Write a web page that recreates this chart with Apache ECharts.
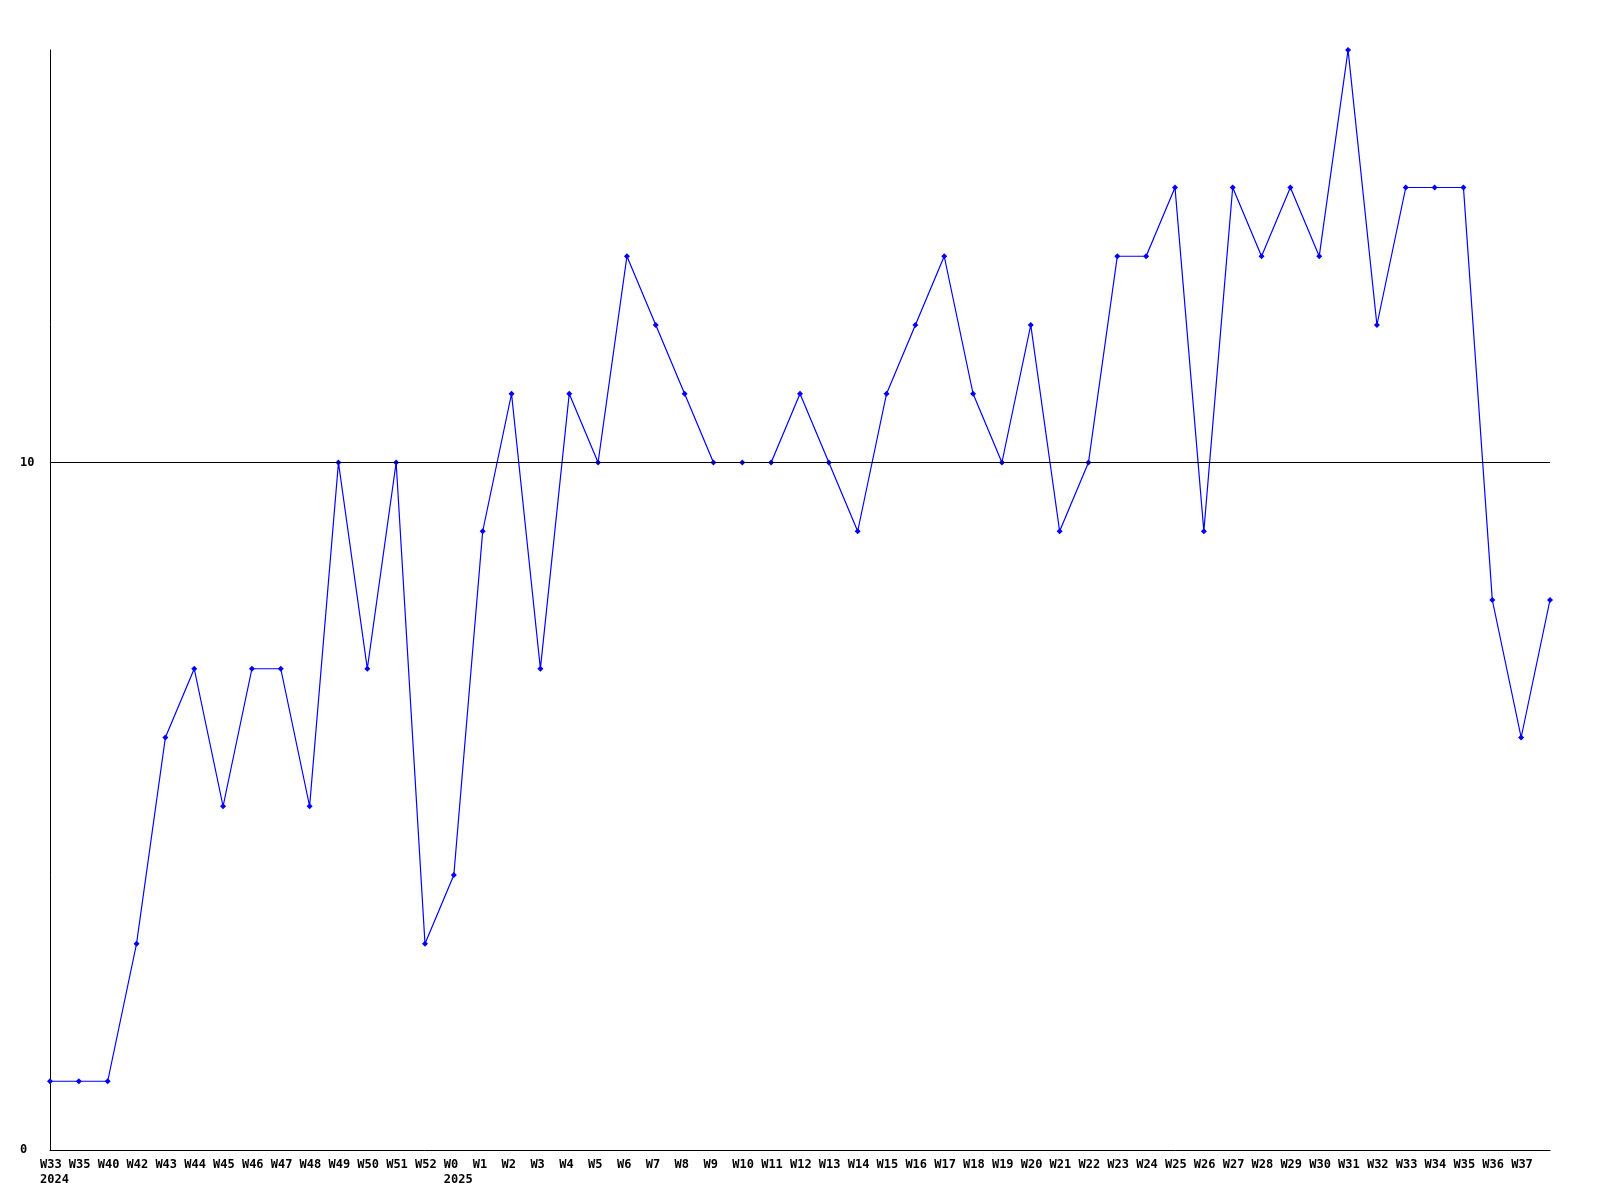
<!DOCTYPE html>
<html>
<head>
<meta charset="utf-8">
<style>html,body{margin:0;padding:0;background:#fff;}#c{width:1600px;height:1200px;}</style>
<script src="https://cdn.jsdelivr.net/npm/echarts@6/dist/echarts.min.js"></script>
</head>
<body>
<div id="c"></div>
<script>
const categories = ["W33","W35","W40","W42","W43","W44","W45","W46","W47","W48","W49","W50","W51","W52",
  "W0","W1","W2","W3","W4","W5","W6","W7","W8","W9","W10","W11","W12","W13","W14","W15","W16","W17","W18","W19",
  "W20","W21","W22","W23","W24","W25","W26","W27","W28","W29","W30","W31","W32","W33","W34","W35","W36","W37","W38"];
const values = [1,1,1,3,6,7,5,7,7,5,10,7,10,3,
  4,9,11,7,11,10,13,12,11,10,10,10,11,10,9,11,12,13,11,10,
  12,9,10,13,13,14,9,14,13,14,13,16,12,14,14,14,8,6,8];
const yearLabels = {0: "2024", 14: "2025"};
const referenceLine = 10;
const yMin = 0, yMax = 16, yInterval = 10;

const chart = echarts.init(document.getElementById('c'));
const font = '"DejaVu Sans Mono", monospace';
chart.setOption({
  animation: false,
  backgroundColor: '#ffffff',
  grid: {left: 50, right: 50, top: 50, bottom: 50},
  xAxis: {
    type: 'category',
    data: categories,
    boundaryGap: false,
    axisLine: {show: true, lineStyle: {color: '#000', width: 1}},
    axisTick: {show: false},
    splitLine: {show: false},
    axisLabel: {
      interval: 0,
      align: 'left',
      margin: 7,
      padding: [0, 0, 0, -10],
      color: '#000',
      fontFamily: font,
      fontWeight: 'bold',
      fontSize: 12,
      lineHeight: 15,
      formatter: function (v, i) {
        if (i === categories.length - 1) return '';
        return yearLabels[i] ? v + '\n' + yearLabels[i] : v;
      }
    }
  },
  yAxis: {
    type: 'value',
    min: yMin, max: yMax, interval: yInterval,
    axisLine: {show: true, lineStyle: {color: '#000', width: 1}},
    axisTick: {show: false},
    splitLine: {show: false},
    axisLabel: {
      align: 'left',
      margin: 30,
      color: '#000',
      fontFamily: font,
      fontWeight: 'bold',
      fontSize: 12,
      formatter: function (v) { return (v === yMin || v === referenceLine) ? String(v) : ''; }
    }
  },
  series: [{
    type: 'line',
    data: values,
    smooth: false,
    symbol: 'diamond',
    symbolSize: 6,
    showSymbol: true,
    lineStyle: {color: '#0000ff', width: 1.2},
    itemStyle: {color: '#0000ff'},
    markLine: {
      silent: true,
      symbol: 'none',
      label: {show: false},
      lineStyle: {color: '#000', width: 1, type: 'solid'},
      data: [{yAxis: referenceLine}]
    }
  }]
});
</script>
</body>
</html>
